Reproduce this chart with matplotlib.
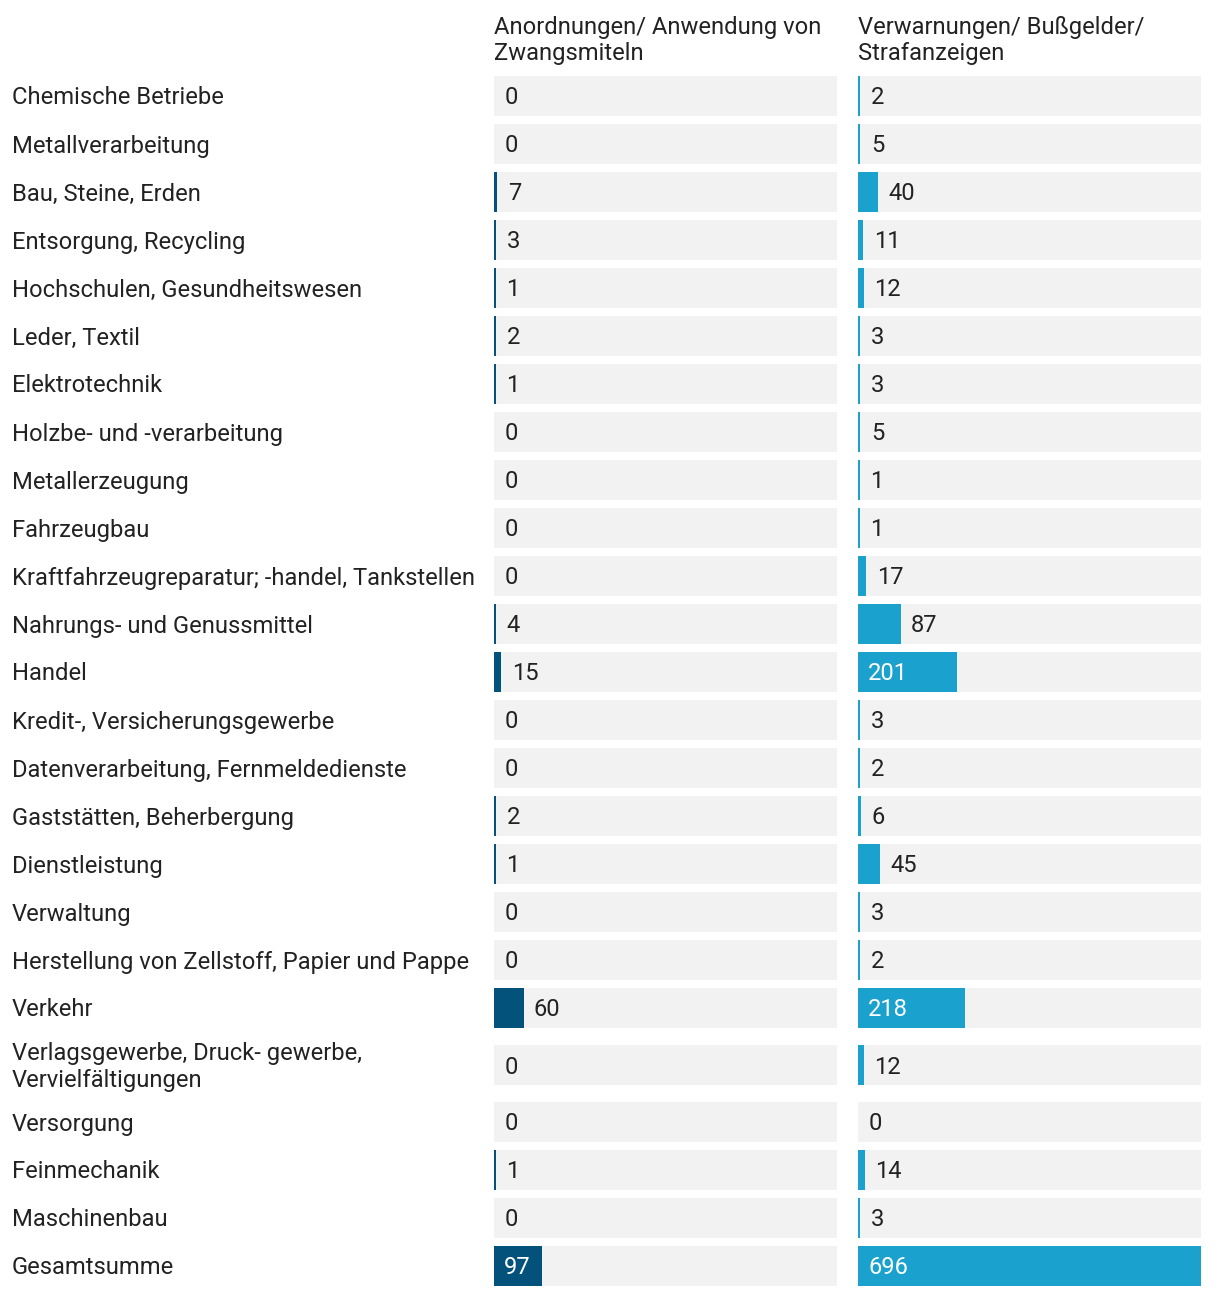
import matplotlib
matplotlib.use("Agg")
import matplotlib.pyplot as plt
import numpy as np

categories = [
    "Chemische Betriebe",
    "Metallverarbeitung",
    "Bau, Steine, Erden",
    "Entsorgung, Recycling",
    "Hochschulen, Gesundheitswesen",
    "Leder, Textil",
    "Elektrotechnik",
    "Holzbe- und -verarbeitung",
    "Metallerzeugung",
    "Fahrzeugbau",
    "Kraftfahrzeugreparatur; -handel, Tankstellen",
    "Nahrungs- und Genussmittel",
    "Handel",
    "Kredit-, Versicherungsgewerbe",
    "Datenverarbeitung, Fernmeldedienste",
    "Gaststätten, Beherbergung",
    "Dienstleistung",
    "Verwaltung",
    "Herstellung von Zellstoff, Papier und Pappe",
    "Verkehr",
    "Verlagsgewerbe, Druck- gewerbe,\nVervielfältigungen",
    "Versorgung",
    "Feinmechanik",
    "Maschinenbau",
    "Gesamtsumme",
]
anordnungen = [0, 0, 7, 3, 1, 2, 1, 0, 0, 0, 0, 4, 15, 0, 0, 2, 1, 0, 0, 60, 0, 0, 1, 0, 97]
verwarnungen = [2, 5, 40, 11, 12, 3, 3, 5, 1, 1, 17, 87, 201, 3, 2, 6, 45, 3, 2, 218, 12, 0, 14, 3, 696]
headers = ["Anordnungen/ Anwendung von\nZwangsmiteln", "Verwarnungen/ Bußgelder/\nStrafanzeigen"]

W, H = 1220, 1296
DPI = 100
FONT = "Roboto"
FS = 17.1
TXT = "#222222"
BG = "#f2f2f2"
COLORS = ["#03527b", "#1aa1cd"]

fig = plt.figure(figsize=(W / DPI, H / DPI), dpi=DPI)
fig.patch.set_facecolor("white")

ax0 = fig.add_axes([0, 0, 1, 1])
ax0.set_xlim(0, W)
ax0.set_ylim(H, 0)
ax0.axis("off")

# row layout (pixel units)
bar_h = 40
gap = 8
line_h = 29
top = 76
centers = []
y = top
for c in categories:
    n = c.count("\n") + 1
    rh = max(bar_h, n * line_h)
    centers.append(y + rh / 2)
    y += rh + gap
centers = np.array(centers)

TEXT_DY = 2  # px nudge so text is visually centred in row

for c, yc in zip(categories, centers):
    ax0.text(12, yc + TEXT_DY, c, ha="left", va="center", fontsize=FS,
             family=FONT, color=TXT, linespacing=1.18)

vmax = max(max(anordnungen), max(verwarnungen))
col_x = [494, 858]
col_w = 343

for i, (vals, x0) in enumerate(zip([anordnungen, verwarnungen], col_x)):
    ax = fig.add_axes([x0 / W, 0, col_w / W, 1])
    ax.set_xlim(0, vmax)
    ax.set_ylim(H, 0)
    ax.axis("off")
    ax.barh(centers, [vmax] * len(centers), height=bar_h, color=BG, linewidth=0)
    vals = np.array(vals, dtype=float)
    px_per_unit = col_w / vmax
    min_w = 2.2 / px_per_unit
    widths = np.where(vals > 0, np.maximum(vals, min_w), 0)
    ax.barh(centers, widths, height=bar_h, color=COLORS[i], linewidth=0)
    for v, wv, yc in zip(vals, widths, centers):
        label = f"{int(v)}"
        inside = wv * px_per_unit >= len(label) * 12 + 22
        if inside:
            ax.annotate(label, xy=(0, yc + TEXT_DY), xytext=(7.4, 0),
                        textcoords="offset points", ha="left", va="center",
                        fontsize=FS, family=FONT, color="white")
        else:
            ax.annotate(label, xy=(wv, yc + TEXT_DY), xytext=(7.4, 0),
                        textcoords="offset points", ha="left", va="center",
                        fontsize=FS, family=FONT, color=TXT)
    ax0.text(x0, 40.5, headers[i], ha="left", va="center", fontsize=FS,
             family=FONT, color=TXT, linespacing=1.2)

fig.savefig("out.png", dpi=DPI, facecolor="white")
